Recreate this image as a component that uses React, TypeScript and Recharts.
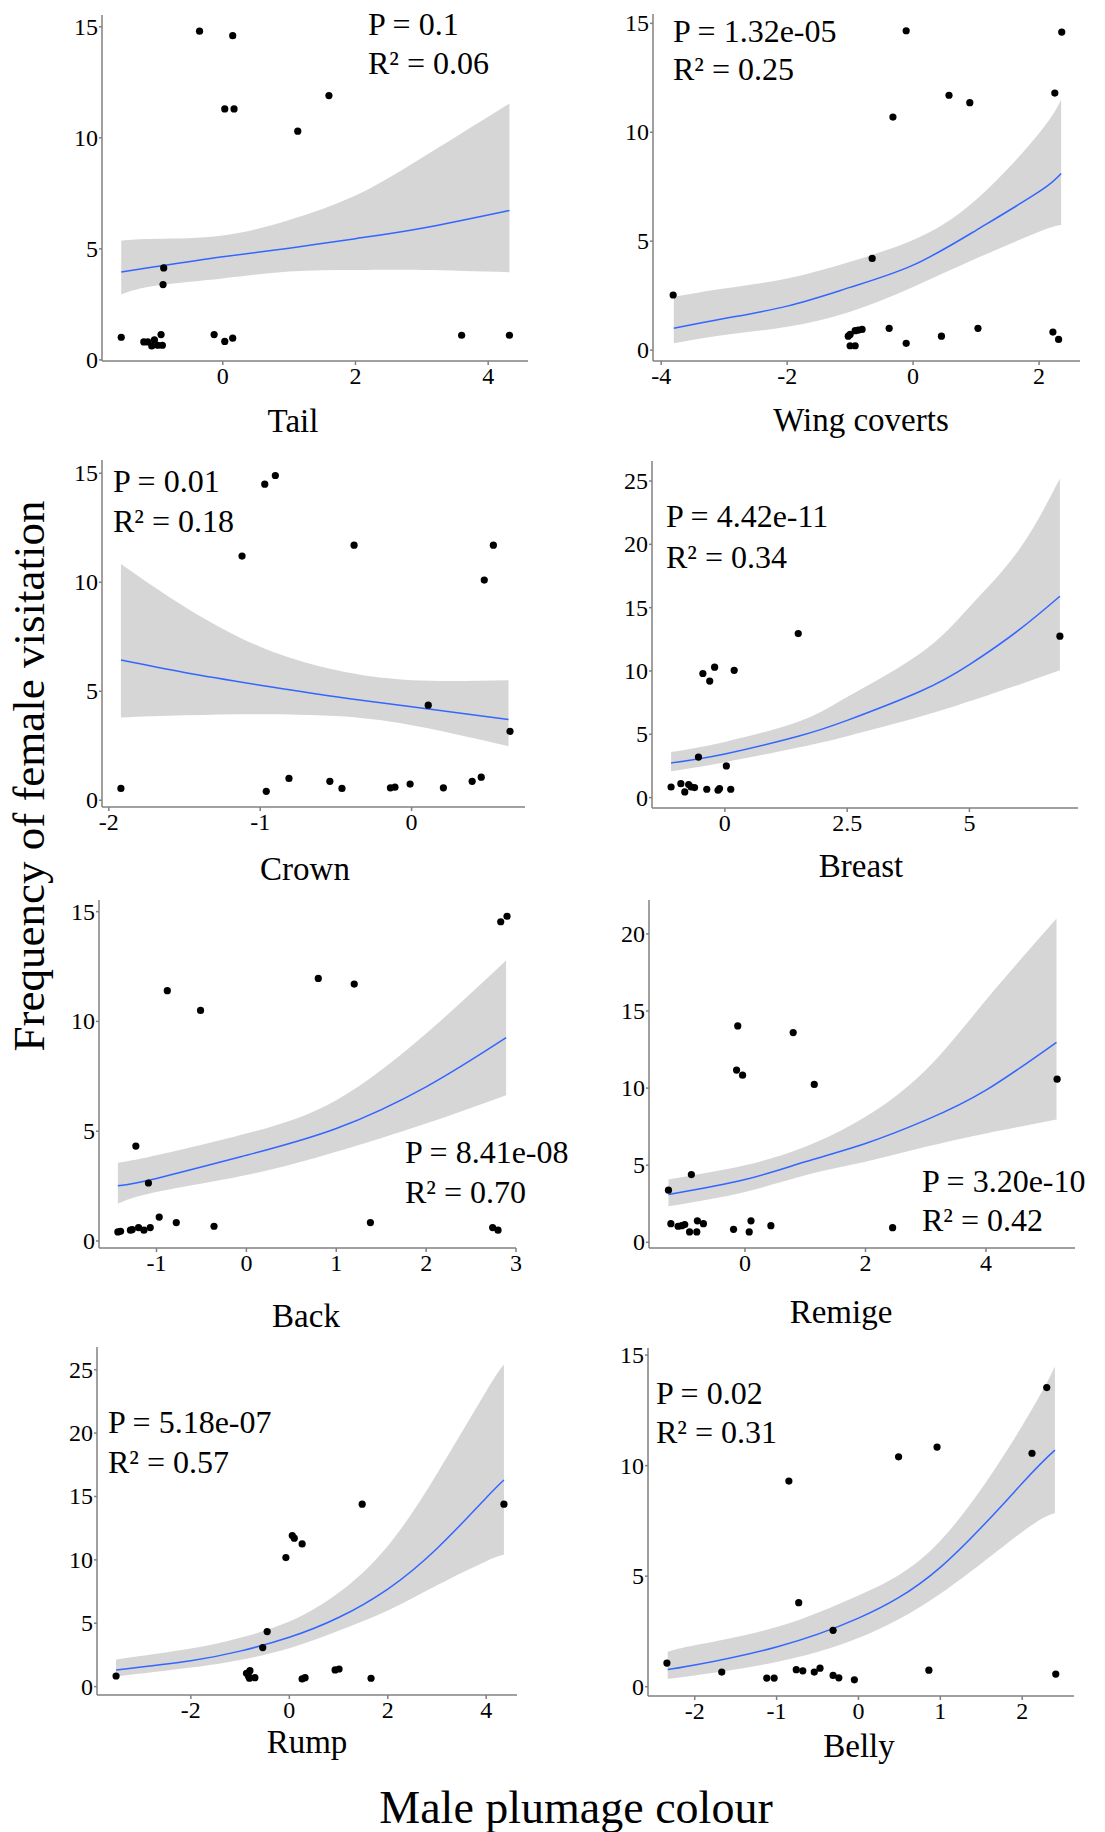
import React from "react";
import { ComposedChart, Area, Line, Scatter, XAxis, YAxis } from "recharts";

type Pt = { x: number; y: number };
type Fit = { x: number; fit: number; lo: number; hi: number };

const SERIF = '"Liberation Serif", "Times New Roman", serif';

// observed points and fitted curve (with 95% band) per plumage patch
const tailPoints: Pt[] = [
  { x: -0.35, y: 14.8 }, { x: 0.15, y: 14.6 }, { x: 0.03, y: 11.3 }, { x: 0.17, y: 11.3 },
  { x: 1.6, y: 11.9 }, { x: 1.13, y: 10.3 }, { x: -0.89, y: 4.14 }, { x: -0.9, y: 3.39 },
  { x: -1.53, y: 1.02 }, { x: -1.19, y: 0.81 }, { x: -1.13, y: 0.81 }, { x: -1.07, y: 0.63 },
  { x: -1.03, y: 0.9 }, { x: -0.98, y: 0.66 }, { x: -0.93, y: 1.14 }, { x: -0.91, y: 0.66 },
  { x: -0.13, y: 1.14 }, { x: 0.03, y: 0.83 }, { x: 0.15, y: 0.98 }, { x: 3.6, y: 1.11 },
  { x: 4.32, y: 1.11 },
];
const tailFit: Fit[] = [
  { x: -1.53, fit: 3.96, lo: 2.95, hi: 5.37 }, { x: -1, fit: 4.2, lo: 3.35, hi: 5.45 },
  { x: 0, fit: 4.64, lo: 3.67, hi: 5.6 }, { x: 1, fit: 5.03, lo: 3.98, hi: 6.3 },
  { x: 2, fit: 5.46, lo: 4.05, hi: 7.4 }, { x: 3, fit: 5.93, lo: 4.05, hi: 9.1 },
  { x: 4.32, fit: 6.73, lo: 3.95, hi: 11.55 },
];

const wingPoints: Pt[] = [
  { x: -3.81, y: 2.53 }, { x: -0.65, y: 4.21 }, { x: -0.11, y: 14.66 }, { x: 2.36, y: 14.6 },
  { x: -0.32, y: 10.7 }, { x: 0.57, y: 11.7 }, { x: 0.9, y: 11.36 }, { x: 2.25, y: 11.8 },
  { x: -1.03, y: 0.64 }, { x: -1.0, y: 0.72 }, { x: -1.0, y: 0.2 }, { x: -0.92, y: 0.2 },
  { x: -0.92, y: 0.89 }, { x: -0.87, y: 0.92 }, { x: -0.81, y: 0.95 }, { x: -0.38, y: 1.0 },
  { x: -0.11, y: 0.31 }, { x: 0.45, y: 0.64 }, { x: 1.03, y: 1.0 }, { x: 2.22, y: 0.83 },
  { x: 2.31, y: 0.49 },
];
const wingFit: Fit[] = [
  { x: -3.8, fit: 1.0, lo: 0.31, hi: 2.45 }, { x: -3, fit: 1.45, lo: 0.69, hi: 2.83 },
  { x: -2, fit: 2.02, lo: 1.07, hi: 3.29 }, { x: -1, fit: 2.88, lo: 1.76, hi: 4.06 },
  { x: 0, fit: 3.9, lo: 2.9, hi: 5.05 }, { x: 1, fit: 5.5, lo: 4.2, hi: 6.9 },
  { x: 2, fit: 7.27, lo: 5.43, hi: 9.95 }, { x: 2.35, fit: 8.11, lo: 5.74, hi: 11.5 },
];

const crownPoints: Pt[] = [
  { x: -1.92, y: 0.54 }, { x: -1.12, y: 11.2 }, { x: -0.97, y: 14.5 }, { x: -0.9, y: 14.9 },
  { x: -0.96, y: 0.41 }, { x: -0.81, y: 1.0 }, { x: -0.54, y: 0.87 }, { x: -0.46, y: 0.54 },
  { x: -0.38, y: 11.7 }, { x: -0.14, y: 0.57 }, { x: -0.11, y: 0.6 }, { x: -0.01, y: 0.74 },
  { x: 0.11, y: 4.36 }, { x: 0.21, y: 0.57 }, { x: 0.4, y: 0.87 }, { x: 0.46, y: 1.06 },
  { x: 0.48, y: 10.1 }, { x: 0.54, y: 11.7 }, { x: 0.65, y: 3.16 },
];
const crownFit: Fit[] = [
  { x: -1.92, fit: 6.43, lo: 3.8, hi: 10.84 }, { x: -1.5, fit: 5.86, lo: 3.9, hi: 8.88 },
  { x: -1, fit: 5.28, lo: 3.95, hi: 7.04 }, { x: -0.5, fit: 4.75, lo: 3.86, hi: 5.97 },
  { x: 0, fit: 4.29, lo: 3.44, hi: 5.51 }, { x: 0.64, fit: 3.7, lo: 2.48, hi: 5.51 },
];

const breastPoints: Pt[] = [
  { x: -1.1, y: 0.84 }, { x: -0.9, y: 1.1 }, { x: -0.82, y: 0.45 }, { x: -0.74, y: 1.03 },
  { x: -0.69, y: 0.84 }, { x: -0.62, y: 0.79 }, { x: -0.54, y: 3.2 }, { x: -0.45, y: 9.8 },
  { x: -0.31, y: 9.2 }, { x: -0.21, y: 10.3 }, { x: -0.37, y: 0.66 }, { x: -0.14, y: 0.58 },
  { x: -0.11, y: 0.71 }, { x: 0.03, y: 2.5 }, { x: 0.12, y: 0.66 }, { x: 0.19, y: 10.05 },
  { x: 1.5, y: 12.95 }, { x: 6.85, y: 12.75 },
];
const breastFit: Fit[] = [
  { x: -1.1, fit: 2.74, lo: 2.08, hi: 3.6 }, { x: 0, fit: 3.45, lo: 2.8, hi: 4.4 },
  { x: 1.5, fit: 4.85, lo: 3.95, hi: 6.0 }, { x: 2.5, fit: 6.1, lo: 4.85, hi: 7.95 },
  { x: 4, fit: 8.4, lo: 6.4, hi: 11.4 }, { x: 5, fit: 10.5, lo: 7.6, hi: 15.05 },
  { x: 6, fit: 13.2, lo: 8.9, hi: 19.5 }, { x: 6.85, fit: 15.9, lo: 10.05, hi: 25.2 },
];

const backPoints: Pt[] = [
  { x: -1.43, y: 0.41 }, { x: -1.4, y: 0.44 }, { x: -1.29, y: 0.49 }, { x: -1.27, y: 0.52 },
  { x: -1.23, y: 4.32 }, { x: -1.2, y: 0.61 }, { x: -1.14, y: 0.49 }, { x: -1.09, y: 2.64 },
  { x: -1.07, y: 0.61 }, { x: -0.97, y: 1.09 }, { x: -0.88, y: 11.4 }, { x: -0.78, y: 0.84 },
  { x: -0.51, y: 10.5 }, { x: -0.36, y: 0.67 }, { x: 0.8, y: 11.96 }, { x: 1.2, y: 11.7 },
  { x: 1.38, y: 0.84 }, { x: 2.74, y: 0.61 }, { x: 2.8, y: 0.49 }, { x: 2.83, y: 14.54 },
  { x: 2.9, y: 14.79 },
];
const backFit: Fit[] = [
  { x: -1.43, fit: 2.51, lo: 1.7, hi: 3.56 }, { x: -1, fit: 2.85, lo: 2.23, hi: 3.9 },
  { x: 0, fit: 3.9, lo: 3.0, hi: 4.89 }, { x: 1, fit: 5.12, lo: 4.06, hi: 6.41 },
  { x: 2, fit: 7.02, lo: 5.35, hi: 9.45 }, { x: 2.89, fit: 9.26, lo: 6.64, hi: 12.77 },
];

const remigePoints: Pt[] = [
  { x: -1.27, y: 3.38 }, { x: -1.23, y: 1.21 }, { x: -1.11, y: 1.04 }, { x: -1.05, y: 1.08 },
  { x: -1.0, y: 1.15 }, { x: -0.92, y: 0.67 }, { x: -0.89, y: 4.39 }, { x: -0.8, y: 0.67 },
  { x: -0.79, y: 1.39 }, { x: -0.69, y: 1.21 }, { x: -0.19, y: 0.84 }, { x: -0.12, y: 14.03 },
  { x: -0.14, y: 11.17 }, { x: -0.04, y: 10.84 }, { x: 0.07, y: 0.67 }, { x: 0.1, y: 1.39 },
  { x: 0.43, y: 1.08 }, { x: 0.8, y: 13.6 }, { x: 1.15, y: 10.24 }, { x: 2.45, y: 0.95 },
  { x: 5.18, y: 10.58 },
];
const remigeFit: Fit[] = [
  { x: -1.27, fit: 3.1, lo: 2.34, hi: 4.07 }, { x: 0, fit: 4.07, lo: 3.27, hi: 5.0 },
  { x: 1, fit: 5.22, lo: 4.35, hi: 6.19 }, { x: 2, fit: 6.41, lo: 5.22, hi: 8.14 },
  { x: 3, fit: 7.92, lo: 6.19, hi: 11.17 }, { x: 4, fit: 9.87, lo: 7.06, hi: 15.71 },
  { x: 5.17, fit: 12.97, lo: 7.97, hi: 21.0 },
];

const rumpPoints: Pt[] = [
  { x: -3.52, y: 0.84 }, { x: -0.87, y: 1.05 }, { x: -0.83, y: 0.84 }, { x: -0.8, y: 1.26 },
  { x: -0.81, y: 0.66 }, { x: -0.7, y: 0.71 }, { x: -0.54, y: 3.08 }, { x: -0.45, y: 4.34 },
  { x: -0.07, y: 10.18 }, { x: 0.06, y: 11.92 }, { x: 0.1, y: 11.71 }, { x: 0.26, y: 11.26 },
  { x: 0.26, y: 0.61 }, { x: 0.32, y: 0.71 }, { x: 0.93, y: 1.32 }, { x: 1.01, y: 1.39 },
  { x: 1.48, y: 14.39 }, { x: 1.66, y: 0.66 }, { x: 4.36, y: 14.39 },
];
const rumpFit: Fit[] = [
  { x: -3.52, fit: 1.32, lo: 0.79, hi: 2.15 }, { x: -2, fit: 2.05, lo: 1.5, hi: 3.0 },
  { x: -1, fit: 2.8, lo: 2.1, hi: 3.85 }, { x: 0, fit: 3.89, lo: 3.03, hi: 5.13 },
  { x: 1, fit: 5.45, lo: 4.4, hi: 7.4 }, { x: 2, fit: 7.7, lo: 6.0, hi: 11.1 },
  { x: 3, fit: 10.9, lo: 8.0, hi: 16.8 }, { x: 4, fit: 14.9, lo: 9.9, hi: 23.3 },
  { x: 4.36, fit: 16.3, lo: 10.4, hi: 25.4 },
];

const bellyPoints: Pt[] = [
  { x: -2.34, y: 1.07 }, { x: -1.67, y: 0.66 }, { x: -1.12, y: 0.39 }, { x: -1.03, y: 0.39 },
  { x: -0.85, y: 9.3 }, { x: -0.76, y: 0.77 }, { x: -0.73, y: 3.8 }, { x: -0.68, y: 0.72 },
  { x: -0.54, y: 0.66 }, { x: -0.47, y: 0.84 }, { x: -0.31, y: 0.51 }, { x: -0.31, y: 2.55 },
  { x: -0.24, y: 0.4 }, { x: -0.05, y: 0.31 }, { x: 0.49, y: 10.4 }, { x: 0.86, y: 0.75 },
  { x: 0.96, y: 10.84 }, { x: 2.12, y: 10.56 }, { x: 2.3, y: 13.53 }, { x: 2.41, y: 0.57 },
];
const bellyFit: Fit[] = [
  { x: -2.33, fit: 0.78, lo: 0.36, hi: 1.57 }, { x: -2, fit: 0.98, lo: 0.51, hi: 1.87 },
  { x: -1, fit: 1.8, lo: 1.12, hi: 2.7 }, { x: 0, fit: 3.1, lo: 2.2, hi: 4.13 },
  { x: 1, fit: 5.4, lo: 4.2, hi: 6.6 }, { x: 2, fit: 9.2, lo: 7.0, hi: 11.8 },
  { x: 2.4, fit: 10.7, lo: 7.86, hi: 14.48 },
];

const yTicks15 = [0, 5, 10, 15];
const yTicks20 = [0, 5, 10, 15, 20];
const yTicks25 = [0, 5, 10, 15, 20, 25];

type PanelCfg = {
  title: string;
  points: Pt[];
  fit: Fit[];
  xTicks: number[];
  yTicks: number[];
  box: [number, number, number, number];
  xDomain: [number, number];
  yDomain: [number, number];
  p: string;
  r2: string;
  stat: [number, number, number];
  titleAt: [number, number];
};

const panels: PanelCfg[] = [
  { title: "Tail", points: tailPoints, fit: tailFit, xTicks: [0, 2, 4], yTicks: yTicks15,
    box: [102, 15, 528, 361], xDomain: [-1.82, 4.6], yDomain: [-0.05, 15.53],
    p: "P = 0.1", r2: "R² = 0.06", stat: [368, 35, 74], titleAt: [293, 432] },
  { title: "Wing coverts", points: wingPoints, fit: wingFit, xTicks: [-4, -2, 0, 2], yTicks: yTicks15,
    box: [653, 14, 1080, 361], xDomain: [-4.13, 2.65], yDomain: [-0.5, 15.43],
    p: "P = 1.32e-05", r2: "R² = 0.25", stat: [673, 42, 80], titleAt: [861, 431] },
  { title: "Crown", points: crownPoints, fit: crownFit, xTicks: [-2, -1, 0], yTicks: yTicks15,
    box: [102, 460, 525, 807], xDomain: [-2.045, 0.749], yDomain: [-0.31, 15.61],
    p: "P = 0.01", r2: "R² = 0.18", stat: [113, 492, 532], titleAt: [305, 880] },
  { title: "Breast", points: breastPoints, fit: breastFit, xTicks: [0, 2.5, 5], yTicks: yTicks25,
    box: [652, 461, 1078, 808], xDomain: [-1.49, 7.22], yDomain: [-0.82, 26.58],
    p: "P = 4.42e-11", r2: "R² = 0.34", stat: [666, 527, 568], titleAt: [861, 877] },
  { title: "Back", points: backPoints, fit: backFit, xTicks: [-1, 0, 1, 2, 3], yTicks: yTicks15,
    box: [99, 900, 516, 1248], xDomain: [-1.64, 3.0], yDomain: [-0.32, 15.53],
    p: "P = 8.41e-08", r2: "R² = 0.70", stat: [405, 1163, 1203], titleAt: [306, 1327] },
  { title: "Remige", points: remigePoints, fit: remigeFit, xTicks: [0, 2, 4], yTicks: yTicks20,
    box: [649, 900, 1075, 1248], xDomain: [-1.593, 5.477], yDomain: [-0.37, 22.2],
    p: "P = 3.20e-10", r2: "R² = 0.42", stat: [922, 1192, 1231], titleAt: [841, 1323] },
  { title: "Rump", points: rumpPoints, fit: rumpFit, xTicks: [-2, 0, 2, 4], yTicks: yTicks25,
    box: [97, 1347, 517, 1695], xDomain: [-3.907, 4.625], yDomain: [-0.66, 26.79],
    p: "P = 5.18e-07", r2: "R² = 0.57", stat: [108, 1433, 1473], titleAt: [307, 1753] },
  { title: "Belly", points: bellyPoints, fit: bellyFit, xTicks: [-2, -1, 0, 1, 2], yTicks: yTicks15,
    box: [648, 1348, 1074, 1696], xDomain: [-2.571, 2.633], yDomain: [-0.42, 15.32],
    p: "P = 0.02", r2: "R² = 0.31", stat: [656, 1404, 1443], titleAt: [859, 1757] },
];

const Dot = (props: any) => <circle cx={props.cx} cy={props.cy} r={3.6} fill="#000" />;

const XTick = (props: any) => (
  <text x={props.x} y={props.y + 17} textAnchor="middle" fill="#000" fontSize={24} fontFamily={SERIF}>
    {props.payload.value}
  </text>
);

const YTick = (props: any) => (
  <text x={props.x} y={props.y + 8} textAnchor="end" fill="#000" fontSize={24} fontFamily={SERIF}>
    {props.payload.value}
  </text>
);

function Panel({ cfg }: { cfg: PanelCfg }) {
  const [l, t, r, b] = cfg.box;
  const W = 46;
  const w = r - l;
  const h = b - t;
  return (
    <div style={{ position: "absolute", left: l - W, top: t - 5 }}>
      <ComposedChart
        width={w + W + 6}
        height={h + 5 + 40}
        margin={{ top: 5, right: 6, left: 0, bottom: 0 }}
      >
        <XAxis
          type="number"
          dataKey="x"
          domain={cfg.xDomain}
          ticks={cfg.xTicks}
          interval={0}
          allowDataOverflow
          height={40}
          stroke="#808080"
          strokeWidth={1.5}
          tick={XTick}
          tickSize={4}
          tickMargin={2}
        />
        <YAxis
          type="number"
          domain={cfg.yDomain}
          ticks={cfg.yTicks}
          interval={0}
          allowDataOverflow
          width={W}
          stroke="#808080"
          strokeWidth={1.5}
          tick={YTick}
          tickSize={3}
          tickMargin={1}
        />
        <Scatter data={cfg.points} dataKey="y" shape={Dot} isAnimationActive={false} />
        <Area
          data={cfg.fit}
          dataKey={(d: Fit) => [d.lo, d.hi]}
          type="natural"
          fill="#999999"
          fillOpacity={0.4}
          stroke="none"
          isAnimationActive={false}
        />
        <Line
          data={cfg.fit}
          dataKey="fit"
          type="natural"
          stroke="#3366FF"
          strokeWidth={1.5}
          dot={false}
          isAnimationActive={false}
        />
      </ComposedChart>
    </div>
  );
}

export default function App() {
  return (
    <div style={{ position: "absolute", left: 0, top: 0, width: 1105, height: 1832, background: "#fff" }}>
      {panels.map((cfg) => (
        <Panel key={cfg.title} cfg={cfg} />
      ))}
      <svg
        width={1105}
        height={1832}
        style={{ position: "absolute", left: 0, top: 0, pointerEvents: "none" }}
        fontFamily={SERIF}
      >
        {panels.map((cfg) => (
          <g key={cfg.title}>
            <text x={cfg.stat[0]} y={cfg.stat[1]} fontSize={32} fill="#000">{cfg.p}</text>
            <text x={cfg.stat[0]} y={cfg.stat[2]} fontSize={32} fill="#000">{cfg.r2}</text>
            <text x={cfg.titleAt[0]} y={cfg.titleAt[1]} fontSize={33} textAnchor="middle" fill="#000">
              {cfg.title}
            </text>
          </g>
        ))}
        <text
          x={44}
          y={776}
          fontSize={45}
          textAnchor="middle"
          fill="#000"
          transform="rotate(-90, 44, 776)"
        >
          Frequency of female visitation
        </text>
        <text x={576} y={1823} fontSize={46} textAnchor="middle" fill="#000">
          Male plumage colour
        </text>
      </svg>
    </div>
  );
}
